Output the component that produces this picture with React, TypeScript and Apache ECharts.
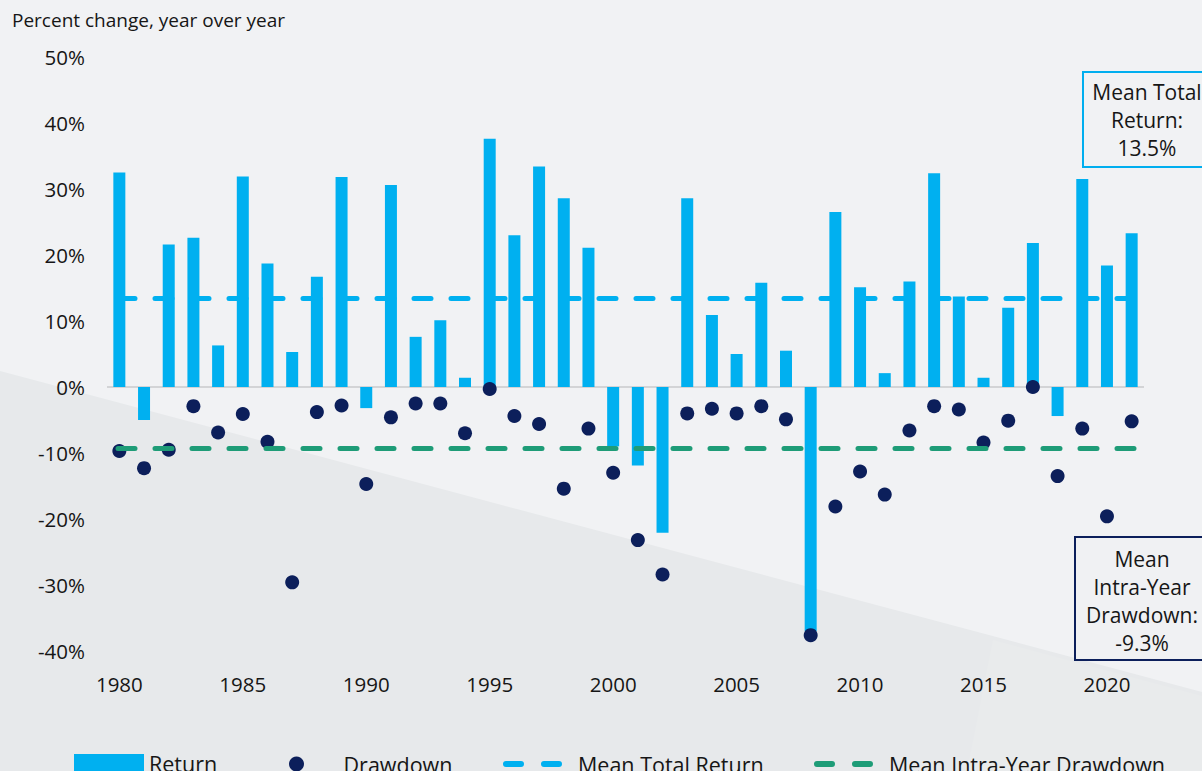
import React, { useEffect, useRef } from 'react';
import * as echarts from 'echarts';

const years = [
  '1980', '1981', '1982', '1983', '1984', '1985', '1986', '1987', '1988', '1989',
  '1990', '1991', '1992', '1993', '1994', '1995', '1996', '1997', '1998', '1999',
  '2000', '2001', '2002', '2003', '2004', '2005', '2006', '2007', '2008', '2009',
  '2010', '2011', '2012', '2013', '2014', '2015', '2016', '2017', '2018', '2019',
  '2020', '2021',
];

const returns = [
  32.5, -5.0, 21.6, 22.6, 6.3, 31.9, 18.7, 5.3, 16.7, 31.8,
  -3.2, 30.6, 7.6, 10.1, 1.4, 37.6, 23.0, 33.4, 28.6, 21.1,
  -9.0, -11.9, -22.1, 28.6, 10.9, 5.0, 15.8, 5.5, -37.0, 26.5,
  15.1, 2.1, 16.0, 32.4, 13.7, 1.4, 12.0, 21.8, -4.4, 31.5,
  18.4, 23.3,
];

const drawdowns = [
  -9.7, -12.3, -9.5, -2.9, -6.9, -4.1, -8.3, -29.6, -3.8, -2.8,
  -14.7, -4.6, -2.5, -2.5, -7.0, -0.3, -4.4, -5.6, -15.4, -6.3,
  -13.0, -23.2, -28.4, -4.0, -3.3, -4.0, -2.9, -4.9, -37.6, -18.1,
  -12.8, -16.3, -6.6, -2.9, -3.4, -8.4, -5.1, 0.0, -13.5, -6.3,
  -19.6, -5.2,
];

const meanTotalReturn = 13.5;
const meanDrawdown = -9.3;

const yMin = -40;
const yMax = 50;
const yInterval = 10;

const FONT = '"Open Sans", "Noto Sans", sans-serif';
const TEXT = '#161616';
const BLUE = '#00b0f0';
const NAVY = '#0c1f5b';
const GREEN = '#1e9c77';

const dashIcon =
  'path://M3,0H18A3,3,0,0,1,18,6H3A3,3,0,0,1,3,0Z M41,0H56A3,3,0,0,1,56,6H41A3,3,0,0,1,41,0Z M70,0L70,0.01Z';

const legendText = { fontFamily: FONT, fontSize: 21.5, color: TEXT };

function legendFor(name: string, icon: string, color: string, left: number, top: number, w: number, h: number) {
  return {
    left,
    top,
    padding: 0,
    itemWidth: w,
    itemHeight: h,
    selectedMode: false,
    textStyle: legendText,
    data: [{ name, icon, itemStyle: { color, borderWidth: 0, opacity: 1 } }],
  };
}

export default function App() {
  const ref = useRef<HTMLDivElement>(null);

  useEffect(() => {
    const chart = echarts.init(ref.current!, null, { renderer: 'svg' });
    const dashedLine = (color: string) => ({
      color,
      width: 5,
      type: [17, 20],
      dashOffset: 26,
      cap: 'round',
    });
    chart.setOption({
      animation: false,
      backgroundColor: '#f1f2f4',
      textStyle: { fontFamily: FONT },
      title: {
        text: 'Percent change, year over year',
        left: 12,
        top: 10,
        padding: 0,
        textStyle: { fontFamily: FONT, fontSize: 19, fontWeight: 'normal', color: TEXT },
      },
      grid: { left: 107, right: 58, top: 57, bottom: 120, containLabel: false },
      legend: [
        legendFor('Return', 'rect', BLUE, 74, 752, 70, 18),
        legendFor('Drawdown', 'circle', NAVY, 289, 753, 84, 15),
        legendFor('Mean Total Return', dashIcon, BLUE, 503, 753, 70, 16),
        legendFor('Mean Intra-Year Drawdown', dashIcon, GREEN, 814, 753, 70, 16),
      ],
      xAxis: {
        type: 'category',
        data: years,
        boundaryGap: true,
        axisLine: { show: false, onZero: false },
        axisTick: { show: false },
        axisLabel: {
          interval: 4,
          margin: 22,
          fontFamily: FONT,
          fontSize: 20.5,
          color: TEXT,
        },
        splitLine: { show: false },
      },
      yAxis: {
        type: 'value',
        min: yMin,
        max: yMax,
        interval: yInterval,
        axisLine: { show: false },
        axisTick: { show: false },
        splitLine: { show: false },
        axisLabel: {
          formatter: '{value}%',
          margin: 22,
          fontFamily: FONT,
          fontSize: 20.5,
          color: TEXT,
        },
      },
      series: [
        {
          name: 'Return',
          type: 'bar',
          data: returns,
          barWidth: 12,
          itemStyle: { color: BLUE },
          z: 2,
          markLine: {
            silent: true,
            symbol: ['none', 'none'],
            label: { show: false },
            emphasis: { disabled: true },
            lineStyle: { color: '#d3d4d6', width: 2, type: 'solid' },
            data: [{ yAxis: 0 }],
            z: 1,
          },
        },
        {
          name: 'Drawdown',
          type: 'scatter',
          data: drawdowns,
          symbol: 'circle',
          symbolSize: 14,
          itemStyle: { color: NAVY, opacity: 1 },
          z: 3,
        },
        {
          name: 'Mean Total Return',
          type: 'line',
          data: [],
          symbol: 'none',
          itemStyle: { color: BLUE },
          lineStyle: dashedLine(BLUE),
          z: 5,
          markLine: {
            silent: true,
            symbol: ['none', 'none'],
            label: { show: false },
            emphasis: { disabled: true },
            lineStyle: dashedLine(BLUE),
            data: [{ yAxis: meanTotalReturn }],
          },
        },
        {
          name: 'Mean Intra-Year Drawdown',
          type: 'line',
          data: [],
          symbol: 'none',
          itemStyle: { color: GREEN },
          lineStyle: dashedLine(GREEN),
          z: 5,
          markLine: {
            silent: true,
            symbol: ['none', 'none'],
            label: { show: false },
            emphasis: { disabled: true },
            lineStyle: dashedLine(GREEN),
            data: [{ yAxis: meanDrawdown }],
          },
        },
      ],
      graphic: [
        {
          type: 'polygon',
          silent: true,
          z: -10,
          shape: { points: [[0, 371], [1202, 692], [1202, 771], [0, 771]] },
          style: { fill: '#e7e9eb' },
        },
        {
          type: 'polygon',
          silent: true,
          z: -9,
          shape: { points: [[993, 640], [1202, 696], [1202, 771], [967, 771]] },
          style: { fill: '#e9ebec' },
        },
        {
          type: 'rect',
          silent: true,
          z: 10,
          shape: { x: 1083, y: 72, width: 130, height: 95 },
          style: { fill: '#f1f2f4', stroke: '#00aeef', lineWidth: 2 },
        },
        {
          type: 'text',
          silent: true,
          z: 11,
          style: {
            text: `Mean Total\nReturn:\n${meanTotalReturn}%`,
            x: 1147,
            y: 120,
            align: 'center',
            verticalAlign: 'middle',
            fontFamily: FONT,
            fontSize: 21,
            lineHeight: 28,
            fill: TEXT,
          },
        },
        {
          type: 'rect',
          silent: true,
          z: 10,
          shape: { x: 1075, y: 537, width: 140, height: 123 },
          style: { fill: '#f0f1f3', stroke: NAVY, lineWidth: 2 },
        },
        {
          type: 'text',
          silent: true,
          z: 11,
          style: {
            text: `Mean\nIntra-Year\nDrawdown:\n${meanDrawdown}%`,
            x: 1142,
            y: 601,
            align: 'center',
            verticalAlign: 'middle',
            fontFamily: FONT,
            fontSize: 21,
            lineHeight: 28,
            fill: TEXT,
          },
        },
      ],
    });
    return () => chart.dispose();
  }, []);

  return (
    <div
      ref={ref}
      style={{ position: 'absolute', left: 0, top: 0, width: 1202, height: 771 }}
    />
  );
}
